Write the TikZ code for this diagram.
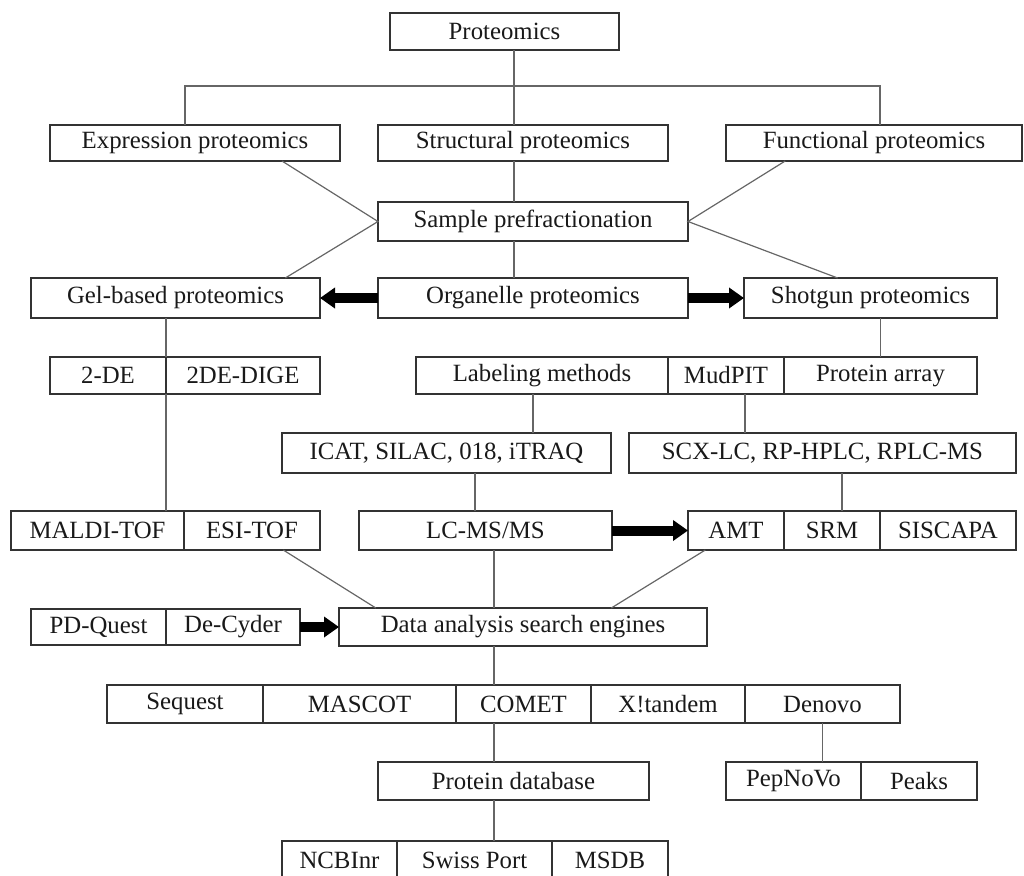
\documentclass[tikz,border=0pt]{standalone}
\usepackage{fontspec}
\setmainfont{Liberation Serif}
\usetikzlibrary{positioning, arrows.meta, calc}
\tikzset{
        box/.style={draw=black!80, line width=0.9pt, inner sep=0pt, outer sep=0pt,
                minimum height=19pt, text=black!90, font=\fontsize{12.4}{14}\selectfont},
        link/.style={draw=black!60, line width=0.6pt},
        fat/.style={line width=5pt, -{Triangle[length=7.5pt,width=10pt]}}
        }
\begin{document}
\begin{tikzpicture}[x=0.5pt, y=-0.5pt]
        \useasboundingbox (0,0) rectangle (1024,875);
        % top levels
        \node[box, minimum width=114.5pt, minimum height=18.5pt] (prot) at (504.5,31.5) {Proteomics};
        \node[box, minimum width=145pt, minimum height=18pt] (expr) at (195,143) {Expression proteomics};
        \node[box, minimum width=145pt, minimum height=18pt] (struc) at (523,143) {Structural proteomics};
        \node[box, minimum width=148pt, minimum height=18pt] (func) at (874,143) {Functional proteomics};
        \node[box, minimum width=155pt, minimum height=19.5pt] (sample) at (533,221.5) {Sample prefractionation};
        \node[box, minimum width=144.5pt, minimum height=20pt] (gel) at (175.5,298) {Gel-based proteomics};
        \node[box, minimum width=155pt, minimum height=20pt] (organ) at (533,298) {Organelle proteomics};
        \node[box, minimum width=126.5pt, minimum height=20pt] (shot) at (870.5,298) {Shotgun proteomics};
        % methods
        \node[box, minimum width=58pt, minimum height=18.5pt] (de) at (108,375.5) {2-DE};
        \node[box, minimum width=77pt, minimum height=18.5pt, right=0pt of de] (dige) {2DE-DIGE};
        \node[box, minimum width=126pt, minimum height=18.5pt] (lab) at (542,375.5) {Labeling methods};
        \node[box, minimum width=58pt, minimum height=18.5pt, right=0pt of lab] (mud) {MudPIT};
        \node[box, minimum width=96.5pt, minimum height=18.5pt, right=0pt of mud] (parr) {Protein array};
        \node[box, minimum width=164.5pt, minimum height=20pt] (icat) at (446.5,453) {ICAT, SILAC, 018, iTRAQ};
        \node[box, minimum width=193.5pt, minimum height=20pt] (scx) at (822.5,453) {SCX-LC, RP-HPLC, RPLC-MS};
        % mass spectrometry
        \node[box, minimum width=86.5pt, minimum height=19.5pt] (maldi) at (97.5,530.5) {MALDI-TOF};
        \node[box, minimum width=68pt, minimum height=19.5pt, right=0pt of maldi] (esi) {ESI-TOF};
        \node[box, minimum width=126.5pt, minimum height=19.5pt] (lcms) at (485.5,530.5) {LC-MS/MS};
        \node[box, minimum width=48pt, minimum height=19.5pt] (amt) at (736,530.5) {AMT};
        \node[box, minimum width=48pt, minimum height=19.5pt, right=0pt of amt] (srm) {SRM};
        \node[box, minimum width=68pt, minimum height=19.5pt, right=0pt of srm] (sis) {SISCAPA};
        % analysis
        \node[box, minimum width=67.5pt, minimum height=18pt] (pdq) at (98.5,627) {PD-Quest};
        \node[box, minimum width=67pt, minimum height=18pt, right=0pt of pdq] (cyder) {De-Cyder};
        \node[box, minimum width=184pt] (data) at (523,627) {Data analysis search engines};
        \node[box, minimum width=78pt] (seq) at (185,704) {Sequest};
        \node[box, minimum width=96.5pt, right=0pt of seq] (mascot) {MASCOT};
        \node[box, minimum width=67.5pt, right=0pt of mascot] (comet) {COMET};
        \node[box, minimum width=77pt, right=0pt of comet] (xtan) {X!tandem};
        \node[box, minimum width=77.5pt, right=0pt of xtan] (denovo) {Denovo};
        \node[box, minimum width=135.5pt] (protdb) at (513.5,781) {Protein database};
        \node[box, minimum width=67.5pt] (pep) at (793.5,781) {PepNoVo};
        \node[box, minimum width=58pt, right=0pt of pep] (peaks) {Peaks};
        \node[box, minimum width=57.5pt] (ncb) at (339.5,860) {NCBInr};
        \node[box, minimum width=77.5pt, right=0pt of ncb] (swiss) {Swiss Port};
        \node[box, minimum width=58pt, right=0pt of swiss] (msdb) {MSDB};
        % x positions of the vertical links
        \coordinate (trunk) at (514,86);
        \coordinate (hl) at (185,86);
        \coordinate (hr) at (880,86);
        \coordinate (xlab) at (533,0);
        \coordinate (xmud) at (745,0);
        \coordinate (xicat) at (475,0);
        \coordinate (xscx) at (842,0);
        \coordinate (spine) at (494,0);
        % links
        \draw[link] (trunk |- prot.south) -- (trunk |- struc.north);
        \draw[link] (hl |- expr.north) -- (hl) -- (hr) -- (hr |- func.north);
        \draw[link] (trunk |- struc.south) -- (trunk |- sample.north);
        \draw[link] (trunk |- sample.south) -- (trunk |- organ.north);
        \draw[link] ($(expr.south west)!0.8!(expr.south east)$) -- (sample.west)
                -- ($(gel.north west)!0.88!(gel.north east)$);
        \draw[link] ($(func.south west)!0.2!(func.south east)$) -- (sample.east)
                -- ($(shot.north west)!0.37!(shot.north east)$);
        \draw[fat] (organ.west) -- (gel.east);
        \draw[fat] (organ.east) -- (shot.west);
        \draw[link] (gel.south -| de.east) -- (de.north east);
        \draw[link] (de.south east) -- (de.south east |- maldi.north);
        \draw[link] (parr.north |- shot.south) -- (parr.north);
        \draw[link] (xlab |- lab.south) -- (xlab |- icat.north);
        \draw[link] (xmud |- mud.south) -- (xmud |- scx.north);
        \draw[link] (xicat |- icat.south) -- (xicat |- lcms.north);
        \draw[link] (xscx |- scx.south) -- (xscx |- srm.north);
        \draw[fat] (lcms.east) -- (amt.west);
        \draw[link] ($(esi.south west)!0.73!(esi.south east)$) -- ($(data.north west)!0.1!(data.north east)$);
        \draw[link] (spine |- lcms.south) -- (spine |- data.north);
        \draw[link] ($(amt.south west)!0.18!(amt.south east)$) -- ($(data.north west)!0.74!(data.north east)$);
        \draw[fat] (cyder.east) -- (data.west);
        \draw[link] (spine |- data.south) -- (spine |- comet.north);
        \draw[link] (spine |- comet.south) -- (spine |- protdb.north);
        \draw[link] (spine |- protdb.south) -- (spine |- swiss.north);
        \draw[link] (denovo.south) -- (denovo.south |- pep.north);
\end{tikzpicture}
\end{document}
